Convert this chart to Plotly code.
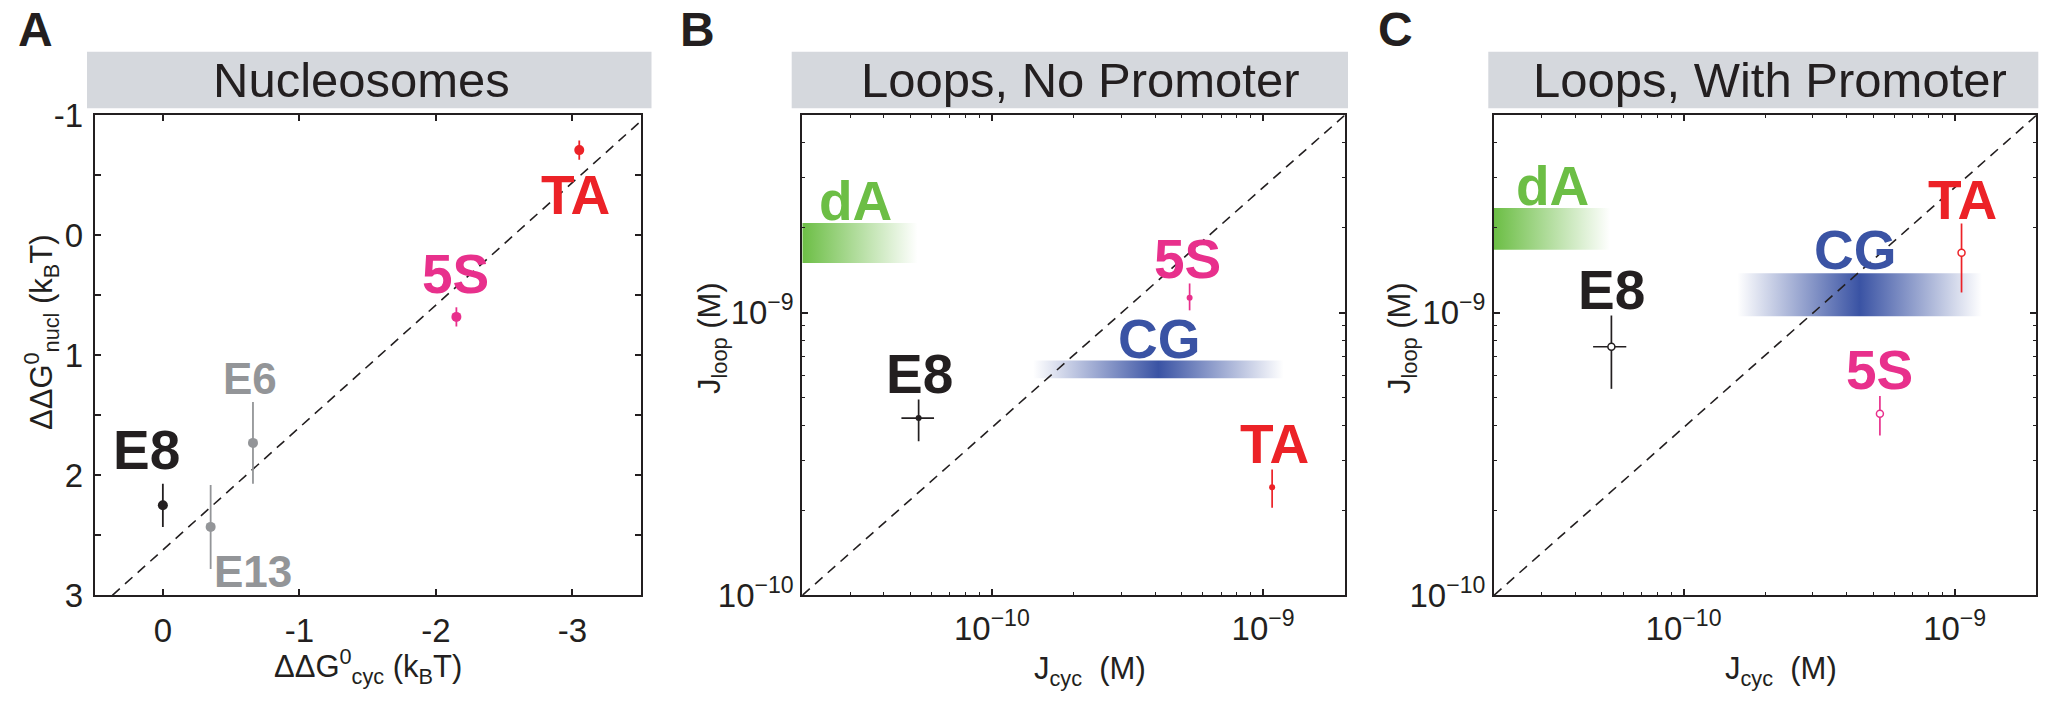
import numpy as np
import plotly.graph_objects as go

W, H = 2049, 706
FONT = "Liberation Sans, Arial, Helvetica, sans-serif"
INK = "#231f20"
GRAY = "#939598"
PINK = "#e8308c"
RED = "#ec2227"
BLUE = (58, 83, 164)
GREEN = (108, 190, 69)

# ---------------- Panel A : Nucleosomes ----------------
a_names = ["E8", "E13", "E6", "5S", "TA"]
a_dg_cyc = [0.0, -0.35, -0.66, -2.15, -3.05]
a_dg_nucl = [2.25, 2.43, 1.73, 0.68, -0.71]
a_err = [0.18, 0.35, 0.34, 0.08, 0.08]
a_colors = [INK, GRAY, GRAY, PINK, RED]
a_label_x = [0.12, -0.66, -0.64, -2.14, -3.02]
a_label_y = [1.79, 2.80, 1.19, 0.32, -0.34]
a_label_size = [55, 44, 44, 55, 55]
a_ref_x = [0.37, -3.5]
a_ref_y = [3.0, -0.95]
a_xticks = [0, -1, -2, -3]
a_xticktext = ["0", "-1", "-2", "-3"]
a_yticks = [-1, 0, 1, 2, 3]
a_yticktext = ["-1", "0", "1", "2", "3"]
a_yminor = [-0.5, 0.5, 1.5, 2.5]

# ---------------- Panel B : Loops, No Promoter ----------------
b_names = ["E8", "5S", "TA"]
b_colors = [INK, PINK, RED]
b_jcyc = [5.37e-11, 5.36e-10, 1.08e-9]
b_jcyc_lo = [4.64e-11, 5.36e-10, 1.08e-9]
b_jcyc_hi = [6.12e-11, 5.36e-10, 1.08e-9]
b_jloop = [4.24e-10, 1.13e-9, 2.41e-10]
b_jloop_lo = [3.51e-10, 1.02e-9, 2.04e-10]
b_jloop_hi = [4.93e-10, 1.27e-9, 2.79e-10]
b_label_x = [5.42e-11, 5.28e-10, 1.10e-9]
b_label_y = [6.07e-10, 1.55e-9, 3.42e-10]
b_cg_x = [1.42e-10, 1.19e-9]
b_cg_y = [5.87e-10, 6.78e-10]
b_cg_label = [4.16e-10, 8.06e-10]
b_da_x = [2.0e-11, 5.32e-11]
b_da_y = [1.50e-9, 2.08e-9]
b_da_label = [3.13e-11, 2.49e-9]

# ---------------- Panel C : Loops, With Promoter ----------------
c_names = ["E8", "5S", "TA"]
c_colors = [INK, PINK, RED]
c_jcyc = [5.42e-11, 5.30e-10, 1.06e-9]
c_jcyc_lo = [4.64e-11, 5.30e-10, 1.06e-9]
c_jcyc_hi = [6.15e-11, 5.30e-10, 1.06e-9]
c_jloop = [7.58e-10, 4.39e-10, 1.63e-9]
c_jloop_lo = [5.38e-10, 3.68e-10, 1.18e-9]
c_jloop_hi = [9.78e-10, 5.08e-10, 2.07e-9]
c_label_x = [5.41e-11, 5.26e-10, 1.07e-9]
c_label_y = [1.20e-9, 6.29e-10, 2.51e-9]
c_cg_x = [1.58e-10, 1.26e-9]
c_cg_y = [9.73e-10, 1.38e-9]
c_cg_label = [4.32e-10, 1.67e-9]
c_da_x = [2.0e-11, 5.37e-11]
c_da_y = [1.67e-9, 2.35e-9]
c_da_label = [3.30e-11, 2.80e-9]

# shared log axes
log_xrange = [2e-11, 2e-9]
log_yrange = [1e-10, 5e-9]
diag_x = [2e-11, 2e-9]
diag_y = [1e-10, 5e-9]
log_ticks = [1e-10, 1e-9]
log_ticktext = ["10<sup>\u221210</sup>", "10<sup>\u22129</sup>"]

# ---------------- layout geometry (pixels) ----------------
def px(x):
    return x / W

def py(y):
    return 1 - y / H

plot_left = [94.6, 802.3, 1494.0]
plot_right = [640.7, 1344.7, 2036.3]
plot_top, plot_bot = 115.3, 595.3
bar_left = [87.0, 791.7, 1488.3]
bar_right = [651.5, 1348.0, 2038.3]
bar_top, bar_bot = 51.7, 108.3
titles = ["Nucleosomes", "Loops, No Promoter", "Loops, With Promoter"]
title_cx = [361.8, 1080.7, 1769.5]
letters = ["A", "B", "C"]
letter_cx = [35, 697, 1395]

fig = go.Figure()

def rgba(c, a):
    return "rgba(%d,%d,%d,%.3f)" % (c[0], c[1], c[2], a)

# ---------- Panel A traces ----------
fig.add_trace(go.Scatter(x=a_ref_x, y=a_ref_y, mode="lines",
                         line=dict(color=INK, width=1.6, dash="10px,7px"),
                         xaxis="x", yaxis="y", showlegend=False, hoverinfo="skip"))
for i in range(len(a_names)):
    fig.add_trace(go.Scatter(
        x=[a_dg_cyc[i]], y=[a_dg_nucl[i]], mode="markers",
        marker=dict(color=a_colors[i], size=10, line=dict(width=0)),
        error_y=dict(type="data", array=[a_err[i]], color=a_colors[i], thickness=1.8, width=0),
        xaxis="x", yaxis="y", showlegend=False, name=a_names[i]))

# ---------- Panel B / C traces ----------
def band(xr, yr, scale, xa, ya):
    fig.add_trace(go.Scatter(
        x=[xr[0], xr[1], xr[1], xr[0], xr[0]],
        y=[yr[0], yr[0], yr[1], yr[1], yr[0]],
        mode="lines", fill="toself",
        line=dict(width=0, color="rgba(0,0,0,0)"),
        fillgradient=dict(type="horizontal", colorscale=scale),
        xaxis=xa, yaxis=ya, showlegend=False, hoverinfo="skip"))

cg_scale = [[0, rgba(BLUE, 0)], [0.5, rgba(BLUE, 1)], [1, rgba(BLUE, 0)]]
da_scale = [[0, rgba(GREEN, 1)], [1, rgba(GREEN, 0)]]

panels = [
    ("x2", "y2", b_jcyc, b_jcyc_lo, b_jcyc_hi, b_jloop, b_jloop_lo, b_jloop_hi,
     b_colors, b_cg_x, b_cg_y, b_da_x, b_da_y, False),
    ("x3", "y3", c_jcyc, c_jcyc_lo, c_jcyc_hi, c_jloop, c_jloop_lo, c_jloop_hi,
     c_colors, c_cg_x, c_cg_y, c_da_x, c_da_y, True),
]
for (xa, ya, jx, jxl, jxh, jy, jyl, jyh, cols, cgx, cgy, dax, day, hollow) in panels:
    band(cgx, cgy, cg_scale, xa, ya)
    band(dax, day, da_scale, xa, ya)
    fig.add_trace(go.Scatter(x=diag_x, y=diag_y, mode="lines",
                             line=dict(color=INK, width=1.6, dash="10px,7px"),
                             xaxis=xa, yaxis=ya, showlegend=False, hoverinfo="skip"))
    for i in range(len(jx)):
        mk = dict(color="white" if hollow else cols[i], size=7 if hollow else 6,
                  line=dict(color=cols[i], width=1.5 if hollow else 0))
        fig.add_trace(go.Scatter(
            x=[jx[i]], y=[jy[i]], mode="markers", marker=mk,
            error_y=dict(type="data", symmetric=False,
                         array=[jyh[i] - jy[i]], arrayminus=[jy[i] - jyl[i]],
                         color=cols[i], thickness=1.7, width=0),
            error_x=dict(type="data", symmetric=False,
                         array=[jxh[i] - jx[i]], arrayminus=[jx[i] - jxl[i]],
                         color=cols[i], thickness=1.7, width=0),
            xaxis=xa, yaxis=ya, showlegend=False))

# ---------- axes ----------
common = dict(showline=True, linewidth=2, linecolor=INK, mirror="ticks",
              ticks="inside", ticklen=6, tickwidth=1.5, tickcolor=INK,
              showgrid=False, zeroline=False, automargin=False,
              tickfont=dict(family=FONT, size=33, color=INK))
ydom = [py(plot_bot), py(plot_top)]

minor_x = [k * 10.0 ** e for e in (-11, -10, -9) for k in range(2, 10)]
minor_y = [k * 10.0 ** e for e in (-10, -9) for k in range(2, 10)]

layout_axes = {}
layout_axes["xaxis"] = dict(common, domain=[px(plot_left[0]), px(plot_right[0])], anchor="y",
                            range=[0.5, -3.5], tickmode="array", tickvals=a_xticks,
                            ticktext=a_xticktext, ticklabelstandoff=5)
layout_axes["yaxis"] = dict(common, domain=ydom, anchor="x", range=[3, -1],
                            tickmode="array", tickvals=a_yticks, ticktext=a_yticktext,
                            minor=dict(tickvals=a_yminor, ticks="inside", ticklen=6,
                                       tickwidth=1.5, tickcolor=INK),
                            ticklabelstandoff=3)
for k, n in ((1, "2"), (2, "3")):
    layout_axes["xaxis" + n] = dict(common, type="log", domain=[px(plot_left[k]), px(plot_right[k])],
                                    anchor="y" + n,
                                    range=[np.log10(log_xrange[0]), np.log10(log_xrange[1])],
                                    tickmode="array", tickvals=log_ticks, ticktext=log_ticktext,
                                    minor=dict(tickvals=minor_x, ticks="inside", ticklen=3,
                                               tickwidth=1.3, tickcolor=INK),
                                    ticklabelstandoff=3)
    layout_axes["yaxis" + n] = dict(common, type="log", domain=ydom, anchor="x" + n,
                                    range=[np.log10(log_yrange[0]), np.log10(log_yrange[1])],
                                    tickmode="array", tickvals=log_ticks, ticktext=log_ticktext,
                                    minor=dict(tickvals=minor_y, ticks="inside", ticklen=3,
                                               tickwidth=1.3, tickcolor=INK),
                                    ticklabelstandoff=0)

# ---------- shapes: title bars ----------
shapes = []
for k in range(3):
    shapes.append(dict(type="rect", xref="paper", yref="paper",
                       x0=px(bar_left[k]), x1=px(bar_right[k]),
                       y0=py(bar_bot), y1=py(bar_top),
                       fillcolor="#d5d8dd", line=dict(width=0), layer="below"))

# ---------- annotations ----------
ann = []
for k in range(3):
    ann.append(dict(xref="paper", yref="paper", x=px(title_cx[k]), y=py(80),
                    text=titles[k], showarrow=False, xanchor="center", yanchor="middle",
                    font=dict(family=FONT, size=49, color=INK)))
    ann.append(dict(xref="paper", yref="paper", x=px(letter_cx[k]), y=py(30),
                    text="<b>%s</b>" % letters[k], showarrow=False, xanchor="center",
                    yanchor="middle", font=dict(family=FONT, size=48, color=INK)))

# point labels
for i in range(len(a_names)):
    ann.append(dict(xref="x", yref="y", x=a_label_x[i], y=a_label_y[i],
                    text="<b>%s</b>" % a_names[i], showarrow=False,
                    xanchor="center", yanchor="middle",
                    font=dict(family=FONT, size=a_label_size[i], color=a_colors[i])))

label_sets = [
    ("x2", "y2", b_names, b_label_x, b_label_y, b_colors, b_cg_label, b_da_label),
    ("x3", "y3", c_names, c_label_x, c_label_y, c_colors, c_cg_label, c_da_label),
]
for xa, ya, names, lx, ly, cols, cgl, dal in label_sets:
    items = list(zip(names, lx, ly, cols))
    items.append(("CG", cgl[0], cgl[1], rgba(BLUE, 1)))
    items.append(("dA", dal[0], dal[1], rgba(GREEN, 1)))
    for name, x, y, col in items:
        ann.append(dict(xref=xa, yref=ya, x=np.log10(x), y=np.log10(y),
                        text="<b>%s</b>" % name, showarrow=False,
                        xanchor="center", yanchor="middle",
                        font=dict(family=FONT, size=55, color=col)))

# axis titles
tfont = dict(family=FONT, size=31, color=INK)
ann.append(dict(xref="paper", yref="paper", x=px(368), y=py(666),
                text="\u0394\u0394G<sup>0</sup><sub>cyc</sub> (k<sub>B</sub>T)",
                showarrow=False, xanchor="center", yanchor="middle", font=tfont))
ann.append(dict(xref="paper", yref="paper", x=px(41), y=py(332),
                text="\u0394\u0394G<sup>0</sup><sub>nucl</sub> (k<sub>B</sub>T)",
                showarrow=False, textangle=-90, xanchor="center", yanchor="middle", font=tfont))
for cx, cyl in ((1089.5, 712), (1781, 1402)):
    ann.append(dict(xref="paper", yref="paper", x=px(cx), y=py(671),
                    text="J<sub>cyc</sub>  (M)", showarrow=False,
                    xanchor="center", yanchor="middle", font=tfont))
    ann.append(dict(xref="paper", yref="paper", x=px(cyl), y=py(338),
                    text="J<sub>loop</sub> (M)", showarrow=False, textangle=-90,
                    xanchor="center", yanchor="middle", font=tfont))

fig.update_layout(width=W, height=H,
                  margin=dict(l=0, r=0, t=0, b=0, pad=0, autoexpand=False),
                  paper_bgcolor="white", plot_bgcolor="white",
                  shapes=shapes, annotations=ann, showlegend=False,
                  font=dict(family=FONT, color=INK), **layout_axes)

fig.write_html("out.html", config={"displayModeBar": False},
               post_script="document.body.style.margin='0px';document.body.style.overflow='hidden';")
